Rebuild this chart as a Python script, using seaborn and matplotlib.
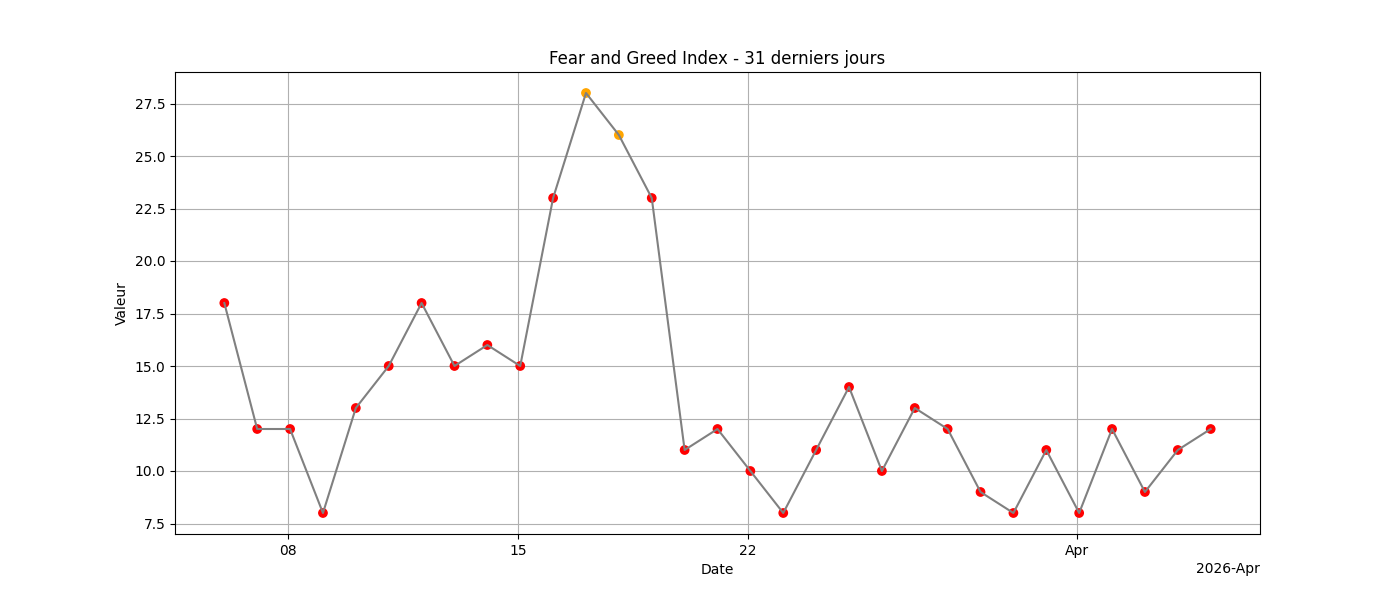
import matplotlib
matplotlib.use("Agg")
import matplotlib.pyplot as plt
import matplotlib.dates as mdates
import seaborn as sns
import pandas as pd
import numpy as np

start_date = "2026-03-06 01:40"
n_days = 31
values = [18, 12, 12, 8, 13, 15, 18, 15, 16, 15, 23, 28, 26, 23, 11, 12,
          10, 8, 11, 14, 10, 13, 12, 9, 8, 11, 8, 12, 9, 11, 12]
title = "Fear and Greed Index - 31 derniers jours"
tick_days = [1, 8, 15, 22]

dates = pd.date_range(start_date, periods=n_days, freq="D")
df = pd.DataFrame({"Date": dates, "Valeur": values})
df["cat"] = np.where(df["Valeur"] <= 24, "extreme", "fear")
palette = {"extreme": "red", "fear": "orange"}

plt.rcParams["font.family"] = ["DejaVu Sans"]
fig, ax = plt.subplots(figsize=(14, 6), dpi=100)

sns.scatterplot(data=df, x="Date", y="Valeur", hue="cat", palette=palette,
                s=36, linewidth=1, edgecolor="face", legend=False, ax=ax, zorder=2)
sns.lineplot(data=df, x="Date", y="Valeur", color="gray", linewidth=1.5, ax=ax, zorder=3)

locator = mdates.DayLocator(bymonthday=tick_days)
ax.xaxis.set_major_locator(locator)
ax.xaxis.set_major_formatter(mdates.ConciseDateFormatter(locator))
ax.grid(True, color="#b0b0b0", linewidth=0.8)
ax.set_axisbelow(True)
ax.set_title(title, fontsize=12)
ax.set_xlabel("Date", fontsize=10)
ax.set_ylabel("Valeur", fontsize=10)
ax.tick_params(labelsize=10)

fig.subplots_adjust(left=0.125, right=0.9, top=0.88, bottom=0.11)
fig.savefig("out.png", dpi=100)
